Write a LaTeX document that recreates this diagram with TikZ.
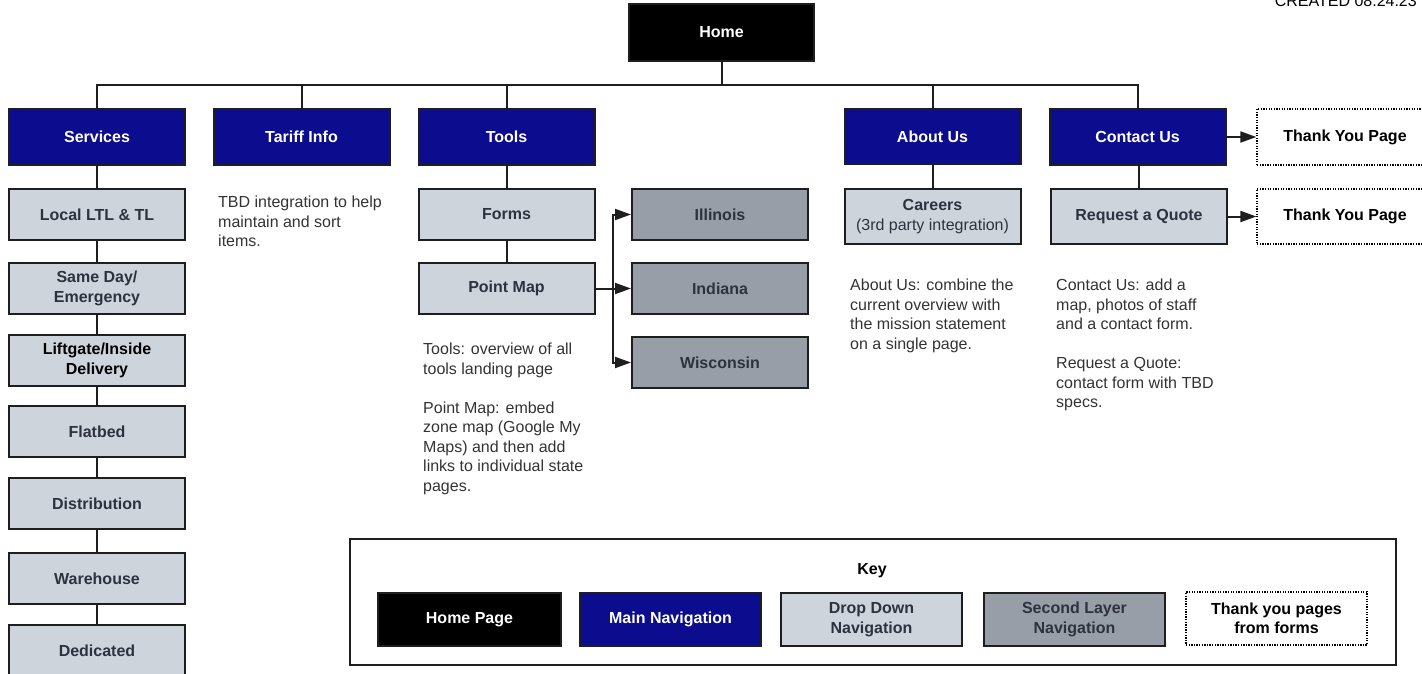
\documentclass[tikz,border=0pt]{standalone}
\usepackage{fontspec}
\setmainfont{Liberation Sans}
\usetikzlibrary{arrows.meta}
\definecolor{navy}{RGB}{11,12,142}
\definecolor{lgray}{RGB}{206,212,220}
\definecolor{dgray}{RGB}{152,158,167}
\definecolor{boxtext}{RGB}{46,50,62}
\definecolor{bodytext}{RGB}{51,51,51}
\definecolor{edge}{RGB}{30,30,30}
\begin{document}
\begin{tikzpicture}[x=1pt,y=-1pt,
 every node/.style={inner sep=0pt},
 base/.style={draw=edge,line width=2pt,minimum width=176pt,minimum height=51pt,align=center,font=\fontsize{16}{19.5}\selectfont\bfseries},
 homebox/.style={base,fill=black,text=white},
 mainbox/.style={base,fill=navy,text=white,minimum height=56pt},
 dropbox/.style={base,fill=lgray,text=boxtext},
 secbox/.style={base,fill=dgray,text=boxtext},
 tybox/.style={base,draw=black,line width=1.3pt,dash pattern=on 1.3pt off 1.3pt,fill=white,text=black},
 note/.style={anchor=north west,align=left,text=bodytext,font=\fontsize{16}{19.5}\selectfont},
 link/.style={draw=edge,line width=2pt},
 arr/.style={link,-{Triangle[length=16pt,width=11pt]}},
]
\useasboundingbox (0,0) rectangle (1422,674);

% top level
\node[homebox,minimum width=185pt,minimum height=57pt] (home) at (721.5,32.5) {Home};
\node[anchor=base east,font=\fontsize{16}{19}\selectfont,text=black] (created) at (1417,7) {CREATED 08.24.23};

\node[mainbox] (svc) at (97,137) {Services};
\node[mainbox] (tariff) at (301.5,137) {Tariff Info};
\node[mainbox] (tools) at (506.5,137) {Tools};
\node[mainbox,minimum height=55pt] (about) at (932.5,136.5) {About Us};
\node[mainbox] (contact) at (1137.5,137) {Contact Us};
\node[tybox,minimum height=56pt] (ty1) at (1345,137) {Thank You Page};
\node[tybox,minimum height=55pt] (ty2) at (1345,216.5) {Thank You Page};

\coordinate (bus) at (0,85);
\draw[link] (home.south) -- (home.south |- bus);
\draw[link] (svc.north) -- (svc.north |- bus) -- (contact.north |- bus) -- (contact.north);
\foreach \n in {tariff,tools,about}
  \draw[link] (\n.north) -- (\n.north |- bus);

% services column
\node[dropbox] (local) at (97,214.5) {Local LTL \& TL};
\node[dropbox] (same) at (97,288.5) {Same Day/\\Emergency};
\node[dropbox,text=black] (lift) at (97,360.5) {Liftgate/Inside\\Delivery};
\node[dropbox] (flat) at (97,431.5) {Flatbed};
\node[dropbox] (dist) at (97,503.5) {Distribution};
\node[dropbox] (ware) at (97,578.5) {Warehouse};
\node[dropbox] (ded) at (97,650.5) {Dedicated};
\draw[link] (svc) -- (local);
\draw[link] (local) -- (same);
\draw[link] (same) -- (lift);
\draw[link] (lift) -- (flat);
\draw[link] (flat) -- (dist);
\draw[link] (dist) -- (ware);
\draw[link] (ware) -- (ded);

% tools column
\node[dropbox] (forms) at (506.5,214.5) {Forms};
\node[dropbox] (pm) at (506.5,288.5) {Point Map};
\draw[link] (tools) -- (forms);
\draw[link] (forms) -- (pm);
\node[secbox] (ill) at (720,214.5) {Illinois};
\node[secbox] (ind) at (720,288.5) {Indiana};
\node[secbox] (wis) at (720,362.5) {Wisconsin};
\coordinate (split) at (613,288.5);
\draw[link] (pm.east) -- (split);
\draw[arr] (split) |- (ill.west);
\draw[arr] (split) -- (ind.west);
\draw[arr] (split) |- (wis.west);

% about / contact
\node[dropbox,minimum height=55pt] (careers) at (932.5,216.5) {Careers\\{\mdseries (3rd party integration)}};
\node[dropbox,minimum height=55pt] (quote) at (1139,216.5) {Request a Quote};
\draw[link] (about) -- (careers);
\draw[link] (contact.south -| quote.north) -- (quote.north);
\draw[arr] (contact.east) -- (ty1.west);
\draw[arr] (quote.east) -- (ty2.west);

% notes
\node[note] (ntariff) at (218,196) {TBD integration to help\\maintain and sort\\items.};
\node[note] (ntools) at (423,343) {Tools: overview of all\\tools landing page\\[19.5pt]Point Map: embed\\zone map (Google My\\Maps) and then add\\links to individual state\\pages.};
\node[note] (nabout) at (850,279) {About Us: combine the\\current overview with\\the mission statement\\on a single page.};
\node[note] (ncontact) at (1056,279) {Contact Us: add a\\map, photos of staff\\and a contact form.\\[19.5pt]Request a Quote:\\contact form with TBD\\specs.};

% key
\node[draw=edge,line width=2pt,minimum width=1046pt,minimum height=126pt] (key) at (873,602) {};
\node[font=\fontsize{16}{19.5}\selectfont\bfseries] (keylabel) at (872,571) {Key};
\node[homebox,minimum width=183pt,minimum height=53pt] (khome) at (469.5,619.5) {Home Page};
\node[mainbox,minimum width=181pt,minimum height=53pt] (kmain) at (670.5,619.5) {Main Navigation};
\node[dropbox,minimum width=181pt,minimum height=53pt] (kdrop) at (871.5,619.5) {Drop Down\\Navigation};
\node[secbox,minimum width=181pt,minimum height=53pt] (ksec) at (1074.5,619.5) {Second Layer\\Navigation};
\node[tybox,minimum width=181pt,minimum height=53pt] (kty) at (1276.5,618.5) {Thank you pages\\from forms};
\end{tikzpicture}
\end{document}
